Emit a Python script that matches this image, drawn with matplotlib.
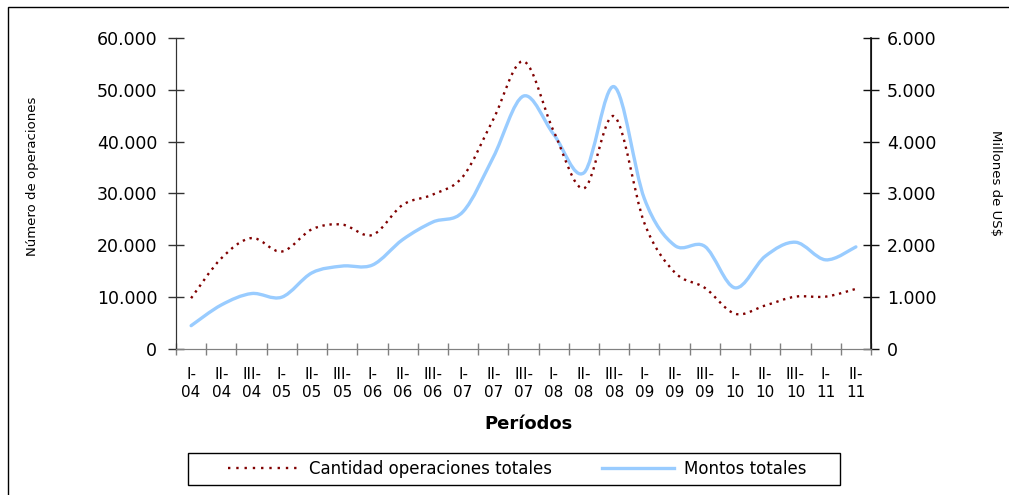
import matplotlib
matplotlib.use("Agg")
import matplotlib.pyplot as plt
from matplotlib.path import Path
from matplotlib.patches import PathPatch, Rectangle
from matplotlib.lines import Line2D

# -----------------
# Data
# -----------------
periodos = ['I-\n04', 'II-\n04', 'III-\n04', 'I-\n05', 'II-\n05', 'III-\n05',
            'I-\n06', 'II-\n06', 'III-\n06', 'I-\n07', 'II-\n07', 'III-\n07',
            'I-\n08', 'II-\n08', 'III-\n08', 'I-\n09', 'II-\n09', 'III-\n09',
            'I-\n10', 'II-\n10', 'III-\n10', 'I-\n11', 'II-\n11']

# Número de operaciones (left axis)
cantidad = [9800, 17500, 21400, 18800, 23100, 24000, 22000, 27800, 29800,
            33300, 44300, 55500, 42000, 31000, 44900, 24300, 14800, 11800,
            6800, 8400, 10100, 10100, 11600]

# Millones de US$ (right axis)
montos = [450, 850, 1070, 1000, 1470, 1600, 1620, 2110, 2450, 2650, 3700,
          4880, 4140, 3400, 5060, 2900, 2000, 1980, 1180, 1790, 2060, 1720,
          1970]

ROJO = '#800000'
AZUL = '#99CCFF'


def smooth_path(xs, ys):
    """Excel-style smoothed line: cubic Bezier through every data point."""
    n = len(xs)
    verts = [(xs[0], ys[0])]
    codes = [Path.MOVETO]
    for i in range(n - 1):
        x0, y0 = (xs[i - 1], ys[i - 1]) if i > 0 else (xs[i], ys[i])
        x1, y1 = xs[i], ys[i]
        x2, y2 = xs[i + 1], ys[i + 1]
        x3, y3 = (xs[i + 2], ys[i + 2]) if i + 2 < n else (x2, y2)
        c1 = (x1 + (x2 - x0) / 6, y1 + (y2 - y0) / 6)
        c2 = (x2 - (x3 - x1) / 6, y2 - (y3 - y1) / 6)
        verts += [c1, c2, (x2, y2)]
        codes += [Path.CURVE4] * 3
    return Path(verts, codes)


def miles(v, pos=None):
    return f'{int(v):,}'.replace(',', '.')


W, H = 1009, 495
fig = plt.figure(figsize=(W / 100, H / 100), dpi=100)
ax = fig.add_axes([176 / W, (H - 349) / H, 695 / W, 311 / H])
ax2 = ax.twinx()

x = list(range(len(periodos)))

# montos on right axis, cantidad drawn on top of it
ax2.add_patch(PathPatch(smooth_path(x, montos), fill=False, edgecolor=AZUL,
                        lw=2.4, capstyle='round', joinstyle='round'))
ax.add_patch(PathPatch(smooth_path(x, cantidad), fill=False, edgecolor=ROJO,
                       lw=1.7, linestyle=(0, (1, 2))))
ax.set_zorder(ax2.get_zorder() + 1)
ax.patch.set_visible(False)

ax.set_xlim(-0.5, len(periodos) - 0.5)
ax.set_ylim(0, 60000)
ax2.set_ylim(0, 6000)
ax.set_yticks(range(0, 60001, 10000))
ax2.set_yticks(range(0, 6001, 1000))
ax.yaxis.set_major_formatter(miles)
ax2.yaxis.set_major_formatter(miles)

ax.set_xticks(x)
ax.set_xticklabels(periodos, fontsize=11, linespacing=1.25)
ax.set_xticks([i - 0.5 for i in range(len(periodos) + 1)], minor=True)
ax.tick_params(axis='x', which='major', length=0, pad=13)
ax.tick_params(axis='x', which='minor', direction='inout', length=8,
               color='#808080', width=1)

ax.tick_params(axis='y', direction='inout', length=11, width=1,
               labelsize=12.5, pad=8, color='#333333')
ax2.tick_params(axis='y', direction='inout', length=11, width=1,
                labelsize=12.5, pad=6, color='#111111')

for a in (ax, ax2):
    a.spines['top'].set_visible(False)
    a.spines['bottom'].set_color('#808080')
    a.spines['left'].set_color('#333333')
    a.spines['right'].set_color('#111111')
ax2.spines['right'].set_linewidth(1.2)

fig.text(529 / W, 1 - 424 / H, 'Períodos', fontsize=13, fontweight='bold',
         ha='center', va='center')
fig.text(33 / W, 1 - 176 / H, 'Número de operaciones', fontsize=9.5,
         rotation=90, ha='center', va='center')
fig.text(995 / W, 1 - 183 / H, 'Millones de US$', fontsize=9.5,
         rotation=270, ha='center', va='center')

# legend: entries without frame, box drawn separately
handles = [Line2D([], [], color=ROJO, lw=1.7, linestyle=(0, (1, 2.5))),
           Line2D([], [], color=AZUL, lw=2.4)]
leg = fig.legend(handles, ['Cantidad operaciones totales', 'Montos totales'],
                 loc='center', ncol=2, fontsize=12, frameon=False,
                 bbox_to_anchor=(517 / W, 1 - 469 / H),
                 handlelength=4.3, handletextpad=0.6, columnspacing=3.0,
                 borderaxespad=0, borderpad=0)
fig.patches.append(Rectangle((188 / W, 1 - 485 / H), 652 / W, 32 / H,
                             fill=False, edgecolor='black', lw=1,
                             transform=fig.transFigure, figure=fig))

# outer chart border (cut off at right and bottom in the reference)
fig.patches.append(Rectangle((8 / W, -0.1), 1.2, 1.1 - 7 / H, fill=False,
                             edgecolor='black', lw=1,
                             transform=fig.transFigure, figure=fig))

fig.savefig('out.png', dpi=100)
